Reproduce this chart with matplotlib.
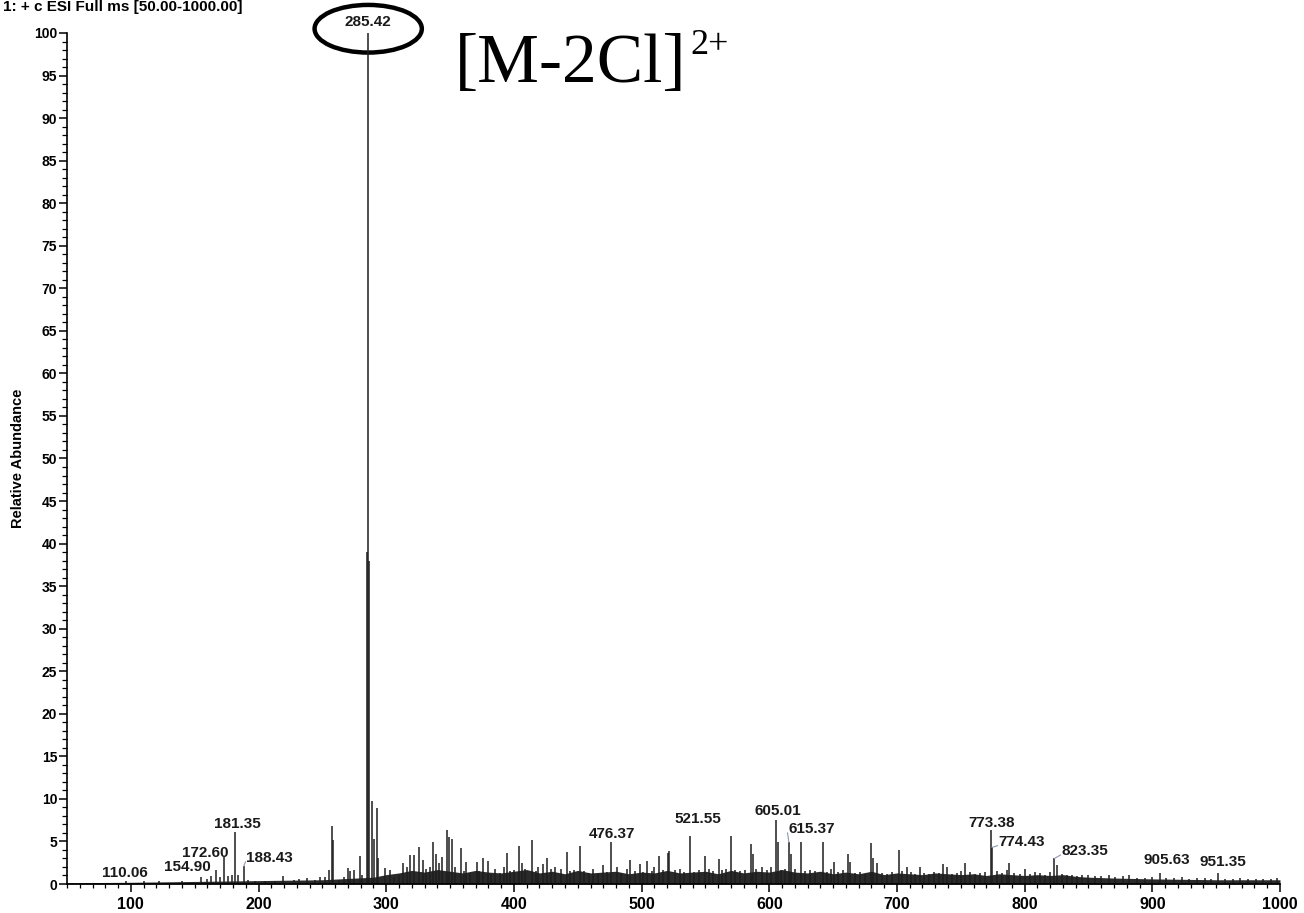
import matplotlib
matplotlib.use("Agg")
import matplotlib.pyplot as plt
from matplotlib.patches import Ellipse
from matplotlib.ticker import MultipleLocator

# stick peaks (m/z, relative abundance)
peak_mz = [96, 110.06, 122, 140, 154.9, 160, 163, 166.7, 170, 172.6, 176, 179, 181.35, 184,
           188.43, 192, 197, 205, 213, 219, 228, 232, 238, 244, 248, 252, 255, 257.6, 258.6,
           263, 267, 270, 272, 275, 279.3, 281, 284.6, 285.42, 286.2, 289.2, 290.2, 292.4,
           293.5, 298.9, 303.3, 306, 310, 313, 316, 319, 322, 325.5, 328.7, 331, 334, 336.5,
           339, 341, 344, 347.6, 349, 351.6, 354, 358.6, 361, 362.5, 366, 371, 373, 375.8,
           379.7, 382, 385, 389, 392, 394.6, 397, 400, 404, 406, 409, 414, 417, 419, 422.8,
           426, 429, 432, 437, 441.6, 444, 447, 451.8, 455, 459, 462, 466, 469.8, 473,
           476.37, 480.8, 484, 488.6, 490.8, 495, 498.6, 501, 504, 508, 510, 513.5, 517,
           520.5, 521.5, 526, 530, 533, 537.7, 541, 545, 550, 553, 556, 560.4, 563, 566,
           569.8, 573, 577, 581, 585.5, 587.5, 590, 594, 598, 601, 605.01, 606.6, 609, 612,
           615.37, 617, 620, 624.7, 628, 632, 636, 641.9, 645, 648, 651, 654, 658, 661.5,
           663, 667, 671, 675, 679.5, 681, 684, 688, 692, 696, 701.4, 704, 707.6, 711, 714,
           718, 721, 725, 729, 733, 736, 739, 743, 747, 750, 753, 757, 761, 765, 769,
           773.38, 774.43, 778, 782, 786, 788, 792, 796, 800, 804, 808, 812, 816, 820,
           823.35, 825, 829, 833, 837, 841, 845, 850, 855, 860, 866, 871, 877, 882, 888,
           894, 900, 905.63, 911, 917, 923, 929, 935, 941, 946, 951.35, 957, 963, 969, 975,
           981, 987, 993, 998]
peak_int = [0.3, 0.4, 0.3, 0.3, 0.8, 0.6, 0.9, 1.6, 0.8, 3.2, 0.9, 1.0, 6.1, 1.0,
            2.1, 0.5, 0.4, 0.4, 0.3, 0.9, 0.5, 0.6, 0.7, 0.5, 0.8, 0.8, 1.6, 6.8, 5.2,
            0.5, 0.8, 1.9, 1.5, 1.6, 3.3, 1.0, 39.0, 100.0, 38.0, 9.7, 5.3, 8.9,
            3.0, 1.9, 1.7, 0.8, 1.0, 2.5, 2.0, 3.4, 3.4, 4.4, 2.8, 1.8, 2.0, 4.9,
            3.5, 2.5, 3.2, 6.3, 5.5, 5.3, 2.0, 4.2, 1.5, 2.6, 1.3, 2.6, 1.5, 3.0,
            2.7, 1.2, 1.8, 1.3, 2.0, 3.6, 1.5, 1.6, 4.5, 2.5, 1.8, 5.2, 1.5, 2.0, 2.3,
            3.0, 1.8, 2.0, 1.8, 3.8, 1.5, 1.6, 4.5, 1.5, 1.3, 1.8, 1.2, 2.2, 1.4,
            4.9, 2.0, 1.3, 1.8, 2.8, 1.5, 2.4, 1.4, 2.7, 1.5, 2.0, 3.3, 1.6,
            3.6, 3.9, 1.6, 1.8, 1.4, 5.6, 1.4, 1.6, 3.3, 1.8, 1.5, 2.9, 1.6, 1.8,
            5.6, 1.6, 1.5, 1.6, 4.7, 3.5, 1.8, 2.0, 1.6, 2.0, 7.5, 4.9, 1.6, 1.8,
            4.9, 3.5, 1.8, 4.9, 1.5, 1.6, 1.5, 4.9, 1.4, 1.8, 2.6, 1.4, 1.6, 3.5,
            2.6, 1.3, 1.4, 1.2, 4.8, 3.0, 2.5, 1.3, 1.2, 1.4, 4.0, 1.5, 2.0, 1.4, 1.2,
            2.0, 1.3, 1.2, 1.4, 1.3, 2.3, 2.0, 1.2, 1.3, 1.5, 2.5, 1.4, 1.2, 1.3, 1.4,
            6.3, 4.3, 1.5, 1.3, 1.6, 2.5, 1.3, 1.2, 1.8, 1.2, 1.4, 1.3, 1.1, 1.4,
            3.0, 2.2, 1.2, 1.0, 1.1, 0.9, 1.0, 1.0, 0.9, 0.9, 1.0, 0.8, 0.9, 1.0, 0.7,
            0.7, 0.8, 1.3, 0.7, 0.7, 0.8, 0.6, 0.7, 0.7, 0.6, 1.3, 0.6, 0.6, 0.7, 0.6,
            0.6, 0.6, 0.6, 0.7]

# dense noise floor under the sticks
band_mz = [50, 100, 150, 200, 250, 290, 300, 310, 320, 330, 340, 350, 360, 370, 380, 390,
           400, 410, 420, 430, 440, 450, 460, 470, 480, 490, 500, 510, 520, 530, 540, 550,
           560, 570, 580, 590, 600, 610, 620, 630, 640, 650, 660, 670, 680, 690, 700, 710,
           720, 730, 740, 750, 760, 770, 780, 790, 800, 810, 820, 830, 840, 850, 870, 900,
           950, 1000]
band_lvl = [0.15, 0.2, 0.3, 0.4, 0.5, 0.8, 1.1, 1.3, 1.6, 1.4, 1.7, 1.5, 1.3, 1.6, 1.4,
            1.3, 1.5, 1.7, 1.3, 1.5, 1.2, 1.6, 1.3, 1.4, 1.5, 1.2, 1.4, 1.3, 1.6, 1.3,
            1.4, 1.5, 1.2, 1.6, 1.3, 1.5, 1.4, 1.7, 1.4, 1.3, 1.5, 1.2, 1.4, 1.2, 1.5,
            1.1, 1.3, 1.2, 1.1, 1.3, 1.2, 1.1, 1.2, 1.0, 1.2, 1.1, 1.0, 1.1, 1.0, 1.1,
            0.9, 0.8, 0.7, 0.6, 0.5, 0.5]

# peak labels as printed on the spectrum (text, x, baseline y)
label_text = ["110.06", "154.90", "172.60", "181.35", "188.43", "285.42", "476.37",
              "521.55", "605.01", "615.37", "773.38", "774.43", "823.35", "905.63", "951.35"]
label_x = [95.3, 144.2, 158.3, 183.4, 208.8, 285.4, 476.7, 544.0, 606.7, 633.3, 774.2,
           797.7, 847.0, 911.0, 955.0]
label_y = [0.8, 1.5, 3.2, 6.6, 2.6, 100.8, 5.4, 7.2, 8.1, 6.0, 6.7, 4.5, 3.4, 2.4, 2.1]
leader_peaks = ["188.43", "615.37", "774.43", "823.35"]

plt.rcParams['font.family'] = ['Liberation Sans', 'DejaVu Sans']
plt.rcParams['font.weight'] = 'bold'

fig = plt.figure(figsize=(13.04, 9.13), dpi=100)
ax = fig.add_axes([67/1304, 29/913, 1213/1304, 851/913])

ax.fill_between(band_mz, 0, band_lvl, color='#2a2a2a', lw=0)
ax.vlines(peak_mz, 0, peak_int, color='#1e1e1e', lw=1.1)

for t, x, y in zip(label_text, label_x, label_y):
    ax.text(x, y, t, ha='center', va='baseline', fontsize=11, fontweight='bold',
            color='#1a1a1a', clip_on=False)
    if t in leader_peaks:
        i = peak_mz.index(float(t))
        ax.plot([peak_mz[i], x - 19], [peak_int[i], y], color='#8a97b0', lw=0.8)

ax.add_patch(Ellipse((285.9, 100.5), 84, 5.6, fill=False, ec='black', lw=3.2, clip_on=False))

ax.set_xlim(50, 1000)
ax.set_ylim(0, 100)
ax.spines['top'].set_visible(False)
ax.spines['right'].set_visible(False)
ax.spines['left'].set_linewidth(1.2)
ax.spines['bottom'].set_linewidth(1.2)

ax.xaxis.set_major_locator(MultipleLocator(100))
ax.xaxis.set_minor_locator(MultipleLocator(10))
ax.yaxis.set_major_locator(MultipleLocator(5))
ax.yaxis.set_minor_locator(MultipleLocator(1))
ax.tick_params(axis='y', which='major', length=6, width=1.1, labelsize=10, pad=1)
ax.tick_params(axis='y', which='minor', length=3.5, width=0.9)
ax.tick_params(axis='x', which='major', length=6, width=1.1, labelsize=11.5, pad=3)
ax.tick_params(axis='x', which='minor', length=3, width=0.9)

fig.text(18/1304, 1 - 458/913, "Relative Abundance", rotation=90, ha='center', va='center',
         fontsize=10.5, fontweight='bold')
fig.text(3/1304, 1 - 11/913, "1: + c ESI Full ms [50.00-1000.00]", ha='left', va='baseline',
         fontsize=11, fontweight='bold')
fig.text(455/1304, 1 - 82/913, "[M-2Cl]", ha='left', va='baseline', fontsize=50,
         family='Liberation Serif', fontweight='normal')
fig.text(690/1304, 1 - 54/913, "2+", ha='left', va='baseline', fontsize=26,
         family='Liberation Serif', fontweight='normal')

fig.savefig('out.png', dpi=100, facecolor='white')
